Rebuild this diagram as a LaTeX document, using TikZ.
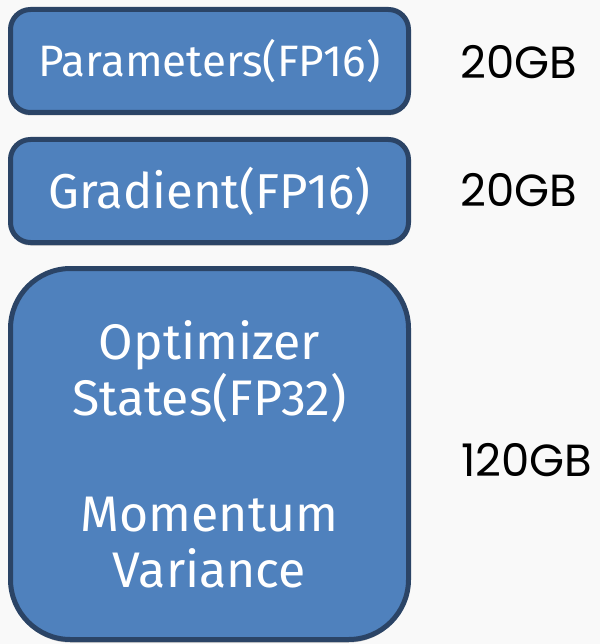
\documentclass[tikz,border=0pt]{standalone}
\usepackage{fontspec}
\setmainfont{Poppins}
\newfontfamily\boxfont{Fira Sans}
\usetikzlibrary{shadows}
\definecolor{boxfill}{HTML}{4F81BD}
\definecolor{boxline}{HTML}{2B4466}
\definecolor{pagebg}{HTML}{F9F9F9}
\tikzset{
    membox/.style={draw=boxline, line width=5pt, fill=boxfill, text=white,
        rounded corners=20pt, minimum width=398pt, minimum height=103pt,
        align=center, inner sep=0pt, font=\boxfont\fontsize{44}{56}\selectfont,
        drop shadow={shadow xshift=0pt, shadow yshift=-3pt, opacity=.25, fill=black}},
    sizelabel/.style={anchor=west, inner sep=0pt, font=\fontsize{45}{50}\selectfont},
    }

\begin{document}
\begin{tikzpicture}[x=1pt,y=-1pt]
	\fill[pagebg] (0,0) rectangle (600,644);
	% memory blocks
	\node[membox] (params) at (209.5,61) {Parameters(FP16)};
	\node[membox, font=\boxfont\fontsize{49}{56}\selectfont] (grads) at (209.5,191) {Gradient(FP16)};
	\node[membox, minimum height=371pt, rounded corners=60pt,
		font=\boxfont\fontsize{50}{56}\selectfont] (optim) at (209.5,454)
		{Optimizer\\States(FP32)\\[60pt]Momentum\\Variance};
	% sizes
	\node[sizelabel] (paramsize) at (460,62) {20GB};
	\node[sizelabel] (gradsize) at (460,190) {20GB};
	\node[sizelabel] (optimsize) at (461,460) {120GB};
\end{tikzpicture}
\end{document}
